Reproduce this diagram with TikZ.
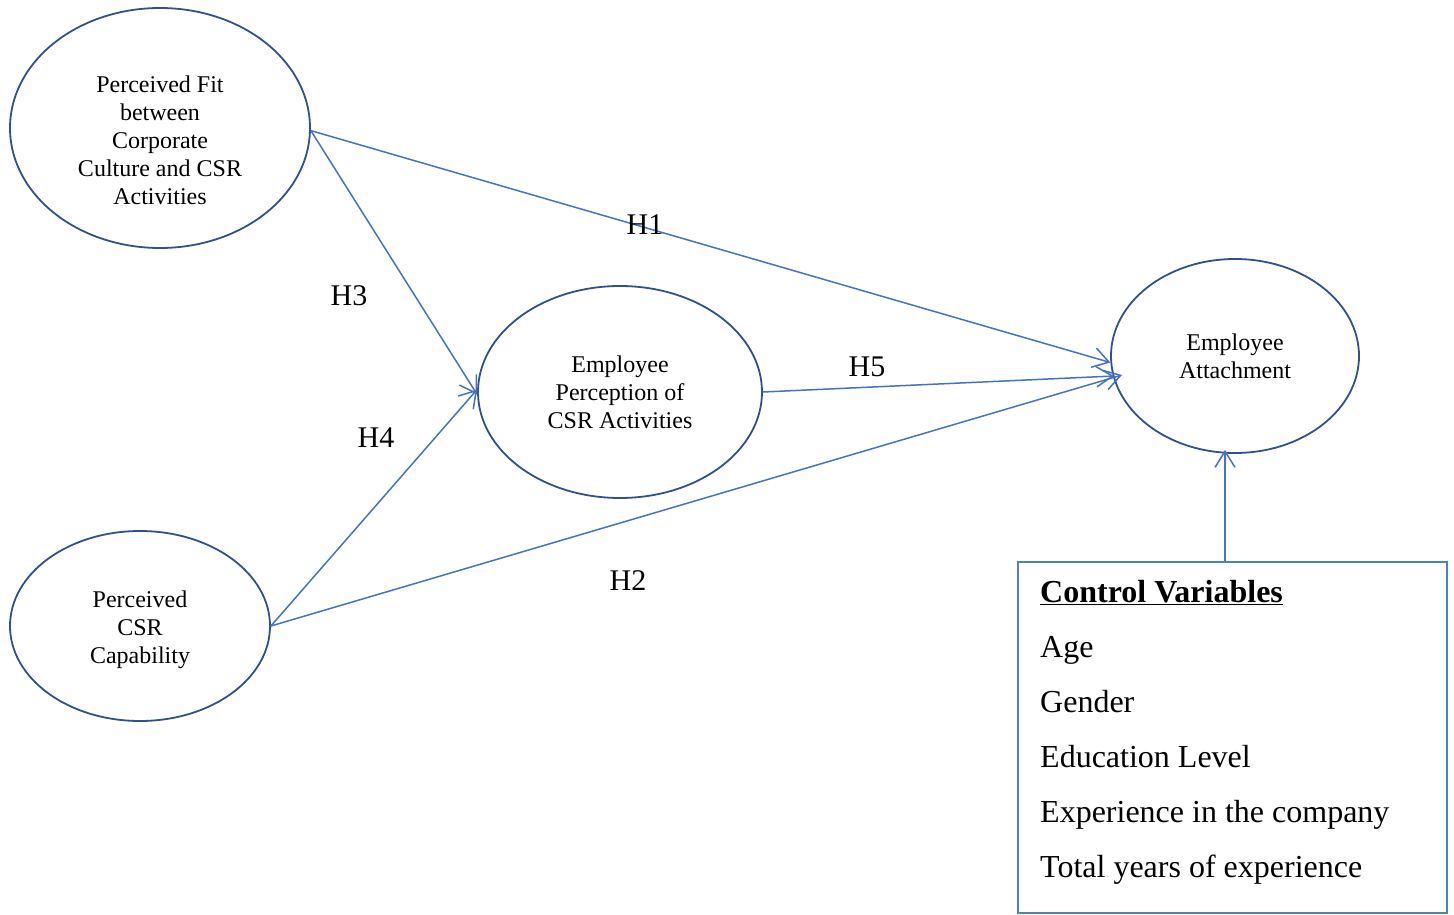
\documentclass[tikz,border=0pt]{standalone}
\usepackage{fontspec}
\setmainfont{Liberation Serif}
\usetikzlibrary{shapes.geometric,arrows.meta,calc}
\definecolor{ellc}{RGB}{47,82,143}
\definecolor{arrc}{RGB}{68,114,196}
\definecolor{boxc}{RGB}{79,129,189}
\tikzset{
  construct/.style={ellipse, draw=ellc, line width=1.8pt, inner sep=0pt, align=center,
    font=\fontsize{24}{28}\selectfont},
  link/.style={draw=arrc, line width=1.5pt, -{Straight Barb[length=16pt,width=20pt,line width=1.5pt]}},
  hyp/.style={font=\fontsize{30}{34}\selectfont, inner sep=0pt},
  ctrlbox/.style={draw=boxc, line width=2.2pt, rectangle, inner sep=0pt}
}
\begin{document}
\begin{tikzpicture}[x=1pt,y=-1pt]
\useasboundingbox (0,0) rectangle (1454,915);
% constructs
\node[construct, minimum width=300pt, minimum height=240pt] (pf) at (160,128) {};
\node[align=center, font=\fontsize{24}{28}\selectfont, inner sep=0pt] (pftext) at (160,140)
  {Perceived Fit\\between\\Corporate\\Culture and CSR\\Activities};
\node[construct, minimum width=284pt, minimum height=212pt] (ep) at (620,392)
  {Employee\\Perception of\\CSR Activities};
\node[construct, minimum width=260pt, minimum height=190pt] (cap) at (140,626) {};
\node[align=center, font=\fontsize{24}{28}\selectfont, inner sep=0pt] (captext) at (140,630)
  {Perceived\\CSR\\Capability};
\node[construct, minimum width=248pt, minimum height=194pt] (ea) at (1235,356)
  {Employee\\Attachment};
% control variables box
\node[ctrlbox, minimum width=429pt, minimum height=351pt] (ctrl) at (1232.5,737.5) {};
\node[anchor=north west, align=left, inner sep=0pt, font=\fontsize{32}{55}\selectfont] (ctrltext) at (1040,580)
  {\underline{\textbf{Control Variables}}\\Age\\Gender\\Education Level\\Experience in the company\\Total years of experience};
% links
\draw[link] (pf.-1.5) -- (ea.183);
\draw[link] (pf.-1.5) -- (ep.181);
\draw[link] (cap.east) -- (ep.179);
\draw[link] (cap.east) -- ($(ea.center)+(-113,19)$);
\draw[link] (ep.east) -- ($(ea.center)+(-121,20)$);
\draw[link] ([xshift=-7.5pt]ctrl.north) -- ([xshift=-10pt,yshift=4pt]ea.south);
% hypothesis labels
\node[hyp] (h1) at (645,225) {H1};
\node[hyp] (h3) at (349,296) {H3};
\node[hyp] (h4) at (376,438) {H4};
\node[hyp] (h5) at (867,367) {H5};
\node[hyp] (h2) at (628,581) {H2};
\end{tikzpicture}
\end{document}
